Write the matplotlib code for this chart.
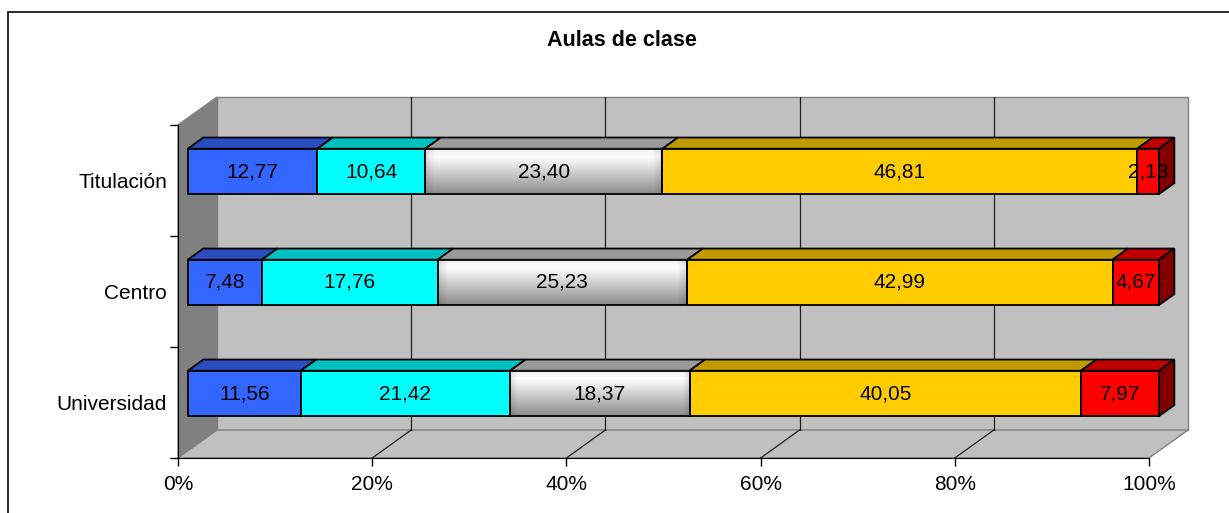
import numpy as np
import matplotlib
matplotlib.use("Agg")
import matplotlib.pyplot as plt
from matplotlib.patches import Polygon, Rectangle
from matplotlib.lines import Line2D

plt.rcParams['font.family'] = ['Liberation Sans', 'DejaVu Sans']

# ---------------- data ----------------
categories = ['Universidad', 'Centro', 'Titulación']
serie_1 = [11.56, 7.48, 12.77]
serie_2 = [21.42, 17.76, 10.64]
serie_3 = [18.37, 25.23, 23.40]
serie_4 = [40.05, 42.99, 46.81]
serie_5 = [7.97, 4.67, 2.13]
x_ticks = [0, 20, 40, 60, 80, 100]
x_tick_labels = ['0%', '20%', '40%', '60%', '80%', '100%']
title = 'Aulas de clase'

series = [serie_1, serie_2, serie_3, serie_4, serie_5]
front_colors = ['#3366FF', '#00FFFF', None, '#FFCC00', '#FF0000']
top_colors = ['#2A4DC0', '#00C0C0', '#9A9A9A', '#C09A00', '#C00000']
side_color = '#800000'

W, H = 1229, 513
fig = plt.figure(figsize=(W / 100, H / 100), dpi=100)
fig.patch.set_facecolor('white')

# outer chart border
fig.patches.append(Rectangle((8 / W, -0.05), 1.2, 1 - 12 / H + 0.05,
                             transform=fig.transFigure, fill=False,
                             edgecolor='#1a1a1a', lw=1.3))

ax = fig.add_axes([178 / W, (H - 458) / H, 971 / W, 333 / H])
ax.set_xlim(0, 100)
ax.set_ylim(-0.5, 2.5)
ax.patch.set_visible(False)

# pixel depth vector of the 3-D box
DX, DY = 39.0, 28.0
p0 = ax.transData.transform((0, 0))
p1 = ax.transData.transform((1, 1))
sx, sy = p1[0] - p0[0], p1[1] - p0[1]


def P(x, y, d, dyextra=0.0):
    return (x + d * DX / sx, y + (d * DY + dyextra) / sy)


def poly(pts, fc, ec, lw=1.0, z=1):
    ax.add_patch(Polygon(pts, closed=True, facecolor=fc, edgecolor=ec,
                         lw=lw, zorder=z, clip_on=False))


y0, y1 = -0.5, 2.5
# back wall
poly([P(0, y0, 1), P(100, y0, 1), P(100, y1, 1), P(0, y1, 1)], '#C0C0C0', '#808080', 1.0, 0.5)
# left wall
poly([P(0, y0, 0), P(0, y0, 1), P(0, y1, 1), P(0, y1, 0)], '#808080', '#808080', 1.0, 0.6)
# floor
poly([P(0, y0, 0), P(100, y0, 0), P(100, y0, 1), P(0, y0, 1)], '#C0C0C0', '#808080', 1.0, 0.6)

# gridlines on back wall and floor
for xv in x_ticks[1:-1]:
    a, b = P(xv, y0, 1), P(xv, y1, 1)
    ax.add_line(Line2D([a[0], b[0]], [a[1], b[1]], color='#202020', lw=0.9, zorder=0.7, clip_on=False))
    c = P(xv, y0, 0)
    ax.add_line(Line2D([c[0], a[0]], [c[1], a[1]], color='#202020', lw=0.9, zorder=0.7, clip_on=False))

# bars
D0, D1 = 0.25, 0.65
LIFT = 2.0  # extra upward pixels of the bars
BH = 0.41
ypos = np.arange(len(categories))
totals = np.sum(np.array(series), axis=0)

# gradient image for grey series
gy = np.linspace(0, 1, 100)[:, None]
gx = np.linspace(0, 1, 200)[None, :]
vert = np.where(gy < 0.18, 0.93 + 0.07 * gy / 0.18, 1.0 - 0.45 * (gy - 0.18) / 0.82)
edge = 1 - 0.12 * np.clip(1 - np.minimum(gx, 1 - gx) / 0.04, 0, 1)
grad = np.clip(vert * edge, 0, 1)
grad_rgb = np.dstack([grad, grad, grad])

for i, y in enumerate(ypos):
    left = 0.0
    for k, s in enumerate(series):
        w = s[i] / totals[i] * 100
        yb, yt = y - BH / 2, y + BH / 2
        # front face
        fl = P(left, yb, D0, LIFT)
        if front_colors[k] is None:
            im = ax.imshow(grad_rgb, extent=(fl[0], fl[0] + w, fl[1], fl[1] + BH),
                           aspect='auto', origin='upper', zorder=2, interpolation='bilinear')
            im.set_clip_on(False)
            ax.add_patch(Rectangle(fl, w, BH, facecolor='none', edgecolor='black',
                                   lw=1.3, zorder=2.1, clip_on=False))
        else:
            ax.add_patch(Rectangle(fl, w, BH, facecolor=front_colors[k], edgecolor='black',
                                   lw=1.3, zorder=2, clip_on=False))
        # top face
        poly([P(left, yt, D0, LIFT), P(left + w, yt, D0, LIFT),
              P(left + w, yt, D1, LIFT), P(left, yt, D1, LIFT)],
             top_colors[k], 'black', 1.3, 1.9)
        # side face of last segment
        if k == len(series) - 1:
            poly([P(left + w, yb, D0, LIFT), P(left + w, yb, D1, LIFT),
                  P(left + w, yt, D1, LIFT), P(left + w, yt, D0, LIFT)],
                 side_color, 'black', 1.3, 1.9)
        # label
        c = P(left + w / 2, y, D0, LIFT)
        ax.text(c[0], c[1], f"{s[i]:.2f}".replace('.', ','), ha='center', va='center',
                fontsize=15, color='black', zorder=5, clip_on=False)
        left += w

# axes spines / ticks
for sp in ['top', 'right']:
    ax.spines[sp].set_visible(False)
ax.spines['left'].set_color('black')
ax.spines['bottom'].set_color('black')
ax.spines['left'].set_zorder(1)
ax.spines['bottom'].set_zorder(1)
ax.set_xticks(x_ticks)
ax.set_xticklabels(x_tick_labels, fontsize=15)
ax.set_yticks(ypos)
ax.set_yticklabels(categories, fontsize=15)
ax.set_yticks([-0.5, 0.5, 1.5, 2.5], minor=True)
ax.tick_params(axis='y', which='major', length=0, pad=8)
ax.tick_params(axis='y', which='minor', length=6, width=1, color='black', direction='out')
ax.tick_params(axis='x', which='major', length=6, width=1, color='black', direction='out', pad=6)

fig.text(622 / W, 1 - 41 / H, title, ha='center', va='center', fontsize=15.5, fontweight='bold')

fig.savefig('out.png', dpi=100)
